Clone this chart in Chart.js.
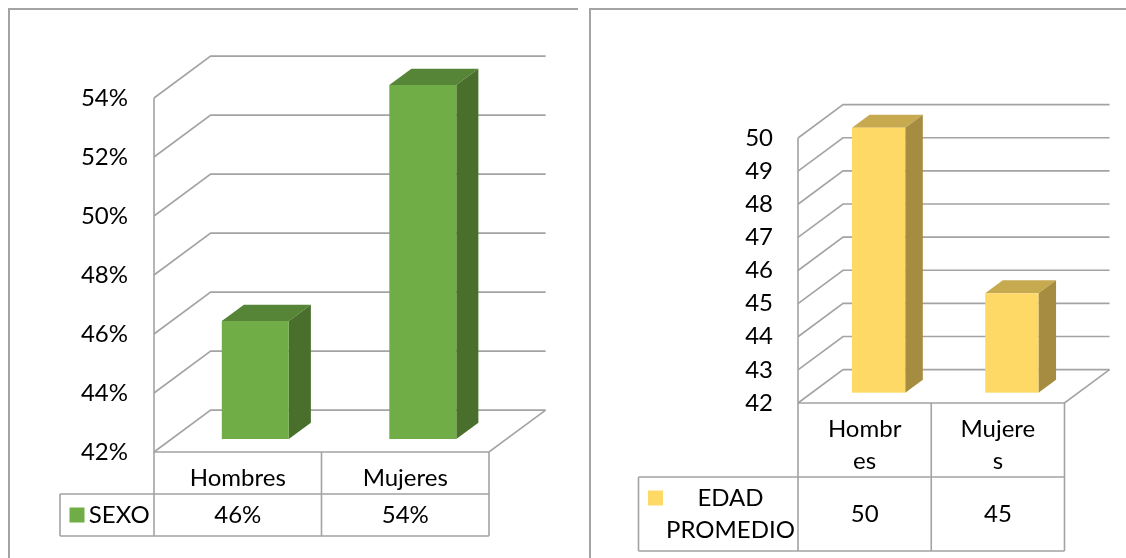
<!DOCTYPE html>
<html lang="es">
<head>
<meta charset="utf-8">
<script src="https://cdn.jsdelivr.net/npm/chart.js@4"></script>
<style>
  body { margin: 0; background: #fff; }
  #wrap { position: relative; width: 1126px; height: 558px; overflow: hidden; }
  .marco { position: absolute; border-top: 2px solid #a3a3a3; border-left: 2px solid #a3a3a3; }
  canvas { position: absolute; top: 0; }
</style>
</head>
<body>
<div id="wrap">
  <div class="marco" style="left:8px;top:8px;width:568px;height:600px"></div>
  <div class="marco" style="left:589px;top:8px;width:600px;height:600px"></div>
  <canvas id="grafSexo" width="588" height="558" style="left:0"></canvas>
  <canvas id="grafEdad" width="538" height="558" style="left:588px"></canvas>
</div>
<script>
// datos
const categorias = ["Hombres", "Mujeres"];
const sexo = [46, 54];
const edadPromedio = [50, 45];

const FUENTE = "Lato";
const GRIS = "#a3a3a3";

// corta un texto letra por letra cuando no cabe en la celda
function partirLetras(ctx, txt, max) {
  const lineas = [];
  let cur = "";
  for (const ch of txt) {
    if (cur && ctx.measureText(cur + ch).width > max) {
      lineas.push(cur);
      cur = ch;
    } else cur += ch;
  }
  lineas.push(cur);
  return lineas;
}

// corta por palabras (para la leyenda)
function partirPalabras(ctx, txt, max) {
  const lineas = [];
  let cur = "";
  txt.split(" ").forEach((w) => {
    const prueba = cur ? cur + " " + w : w;
    if (cur && ctx.measureText(prueba).width > max) {
      lineas.push(cur);
      cur = w;
    } else cur = prueba;
  });
  lineas.push(cur);
  return lineas;
}

function poligono(ctx, color, pts) {
  ctx.fillStyle = color;
  ctx.beginPath();
  pts.forEach(([px, py], i) => (i ? ctx.lineTo(px, py) : ctx.moveTo(px, py)));
  ctx.closePath();
  ctx.fill();
}

// columnas 3D con pared de fondo, piso y tabla de datos debajo
const columnas3d = {
  id: "columnas3d",
  beforeDatasetsDraw(chart, args, opts) {
    const { ctx, chartArea: a, scales } = chart;
    const y = scales.y;
    const dx = a.width * 0.169;
    const dy = dx * 0.74;
    ctx.save();
    ctx.strokeStyle = GRIS;
    ctx.lineWidth = 1.6;
    // líneas de división: diagonal en la pared izquierda + horizontal al fondo
    y.ticks.forEach((t) => {
      const py = y.getPixelForValue(t.value);
      ctx.beginPath();
      ctx.moveTo(a.left, py);
      ctx.lineTo(a.left + dx, py - dy);
      ctx.lineTo(a.right + dx, py - dy);
      ctx.stroke();
    });
    // eje vertical y borde del piso
    ctx.beginPath();
    ctx.moveTo(a.left, a.top);
    ctx.lineTo(a.left, a.bottom);
    ctx.lineTo(a.right, a.bottom);
    ctx.lineTo(a.right + dx, a.bottom - dy);
    ctx.stroke();

    const ds = chart.data.datasets[0];
    const z1 = 0.31, z2 = 0.7;
    const x1 = dx * z1, y1 = dy * z1, x2 = dx * z2, y2 = dy * z2;
    // las columnas arrancan en el mínimo del eje (el piso)
    const base = y.getPixelForValue(y.min);
    chart.getDatasetMeta(0).data.forEach((bar) => {
      const { x, y: top, width } = bar.getProps(["x", "y", "width"], true);
      const l = x - width / 2, r = x + width / 2;
      poligono(ctx, opts.colorArriba, [[l + x1, top - y1], [r + x1, top - y1], [r + x2, top - y2], [l + x2, top - y2]]);
      poligono(ctx, opts.colorLado, [[r + x1, top - y1], [r + x2, top - y2], [r + x2, base - y2], [r + x1, base - y1]]);
      ctx.fillStyle = ds.backgroundColor;
      ctx.fillRect(l + x1, top - y1, width, base - top);
    });
    ctx.restore();
    return false;
  },
  afterDraw(chart, args, opts) {
    const { ctx, chartArea: a } = chart;
    const labels = chart.data.labels;
    const ds = chart.data.datasets[0];
    const catW = a.width / labels.length;
    const lh = 32;
    ctx.save();
    ctx.font = `24px ${FUENTE}`;
    ctx.fillStyle = "#000";
    ctx.textAlign = "center";
    ctx.textBaseline = "middle";

    const cabeceras = labels.map((l) => partirLetras(ctx, l, catW - 54));
    const h1 = Math.max(...cabeceras.map((c) => c.length)) * lh + 10;
    const legIzq = a.left - opts.anchoLeyenda;
    const cuadro = 15;
    const txtIzq = legIzq + 9.5 + cuadro + 5;
    const legLineas = partirPalabras(ctx, ds.label, a.left - 5 - txtIzq);
    const h2 = legLineas.length * lh + 10;
    const t0 = a.bottom, t1 = t0 + h1, t2 = t1 + h2;

    // rejilla de la tabla
    ctx.strokeStyle = GRIS;
    ctx.lineWidth = 1.6;
    ctx.beginPath();
    for (let i = 0; i <= labels.length; i++) {
      const px = a.left + i * catW;
      ctx.moveTo(px, t0);
      ctx.lineTo(px, t2);
    }
    ctx.moveTo(legIzq, t1);
    ctx.lineTo(a.right, t1);
    ctx.moveTo(legIzq, t2);
    ctx.lineTo(a.right, t2);
    ctx.moveTo(legIzq, t1);
    ctx.lineTo(legIzq, t2);
    ctx.stroke();

    // categorías y valores
    labels.forEach((l, i) => {
      const cx = a.left + (i + 0.5) * catW;
      const ls = cabeceras[i];
      ls.forEach((s, k) => {
        ctx.fillText(s, cx, t0 + h1 / 2 + (k - (ls.length - 1) / 2) * lh + 5);
      });
      ctx.fillText(opts.formato(ds.data[i]), cx, t1 + h2 / 2);
    });

    // leyenda
    const txtC = (txtIzq + a.left - 5) / 2;
    legLineas.forEach((s, k) => {
      ctx.fillText(s, txtC, t1 + h2 / 2 + (k - (legLineas.length - 1) / 2) * lh);
    });
    const yc = t1 + h2 / 2 - ((legLineas.length - 1) / 2) * lh;
    ctx.fillStyle = ds.backgroundColor;
    ctx.fillRect(legIzq + 9.5, yc - cuadro / 2, cuadro, cuadro);
    ctx.restore();
  },
};

function crearGrafico(id, cfg) {
  return new Chart(document.getElementById(id), {
    type: "bar",
    data: {
      labels: categorias,
      datasets: [
        {
          label: cfg.serie,
          data: cfg.valores,
          backgroundColor: cfg.color,
          barPercentage: 0.4,
          categoryPercentage: 1,
        },
      ],
    },
    options: {
      responsive: false,
      animation: false,
      devicePixelRatio: 1,
      layout: { padding: cfg.padding },
      scales: {
        x: { display: false },
        y: {
          min: cfg.min,
          max: cfg.max,
          ticks: {
            stepSize: cfg.paso,
            callback: cfg.formatoEje,
            padding: cfg.sepEtiquetas,
            color: "#000",
            font: { family: FUENTE, size: 24 },
          },
          grid: { display: false, drawTicks: false },
          border: { display: false },
          afterFit: (s) => {
            s.width = cfg.anchoEje;
          },
        },
      },
      plugins: {
        legend: { display: false },
        tooltip: { enabled: false },
        columnas3d: {
          colorArriba: cfg.colorArriba,
          colorLado: cfg.colorLado,
          anchoLeyenda: cfg.anchoLeyenda,
          formato: cfg.formatoTabla,
        },
      },
    },
    plugins: [columnas3d],
  });
}

crearGrafico("grafSexo", {
  serie: "SEXO",
  valores: sexo,
  color: "#70ad47",
  colorArriba: "#568537",
  colorLado: "#4a6f2c",
  min: 42,
  max: 54,
  paso: 2,
  formatoEje: (v) => v + "%",
  formatoTabla: (v) => v + "%",
  anchoEje: 154,
  sepEtiquetas: 26,
  anchoLeyenda: 94,
  padding: { left: 0, top: 98, right: 99, bottom: 106 },
});

crearGrafico("grafEdad", {
  serie: "EDAD PROMEDIO",
  valores: edadPromedio,
  color: "#ffd966",
  colorArriba: "#c7a950",
  colorLado: "#a68c40",
  min: 42,
  max: 50,
  paso: 1,
  formatoEje: (v) => v,
  formatoTabla: (v) => v,
  anchoEje: 210,
  sepEtiquetas: 25,
  anchoLeyenda: 159.5,
  padding: { left: 0, top: 138, right: 61.5, bottom: 155 },
});
</script>
</body>
</html>
